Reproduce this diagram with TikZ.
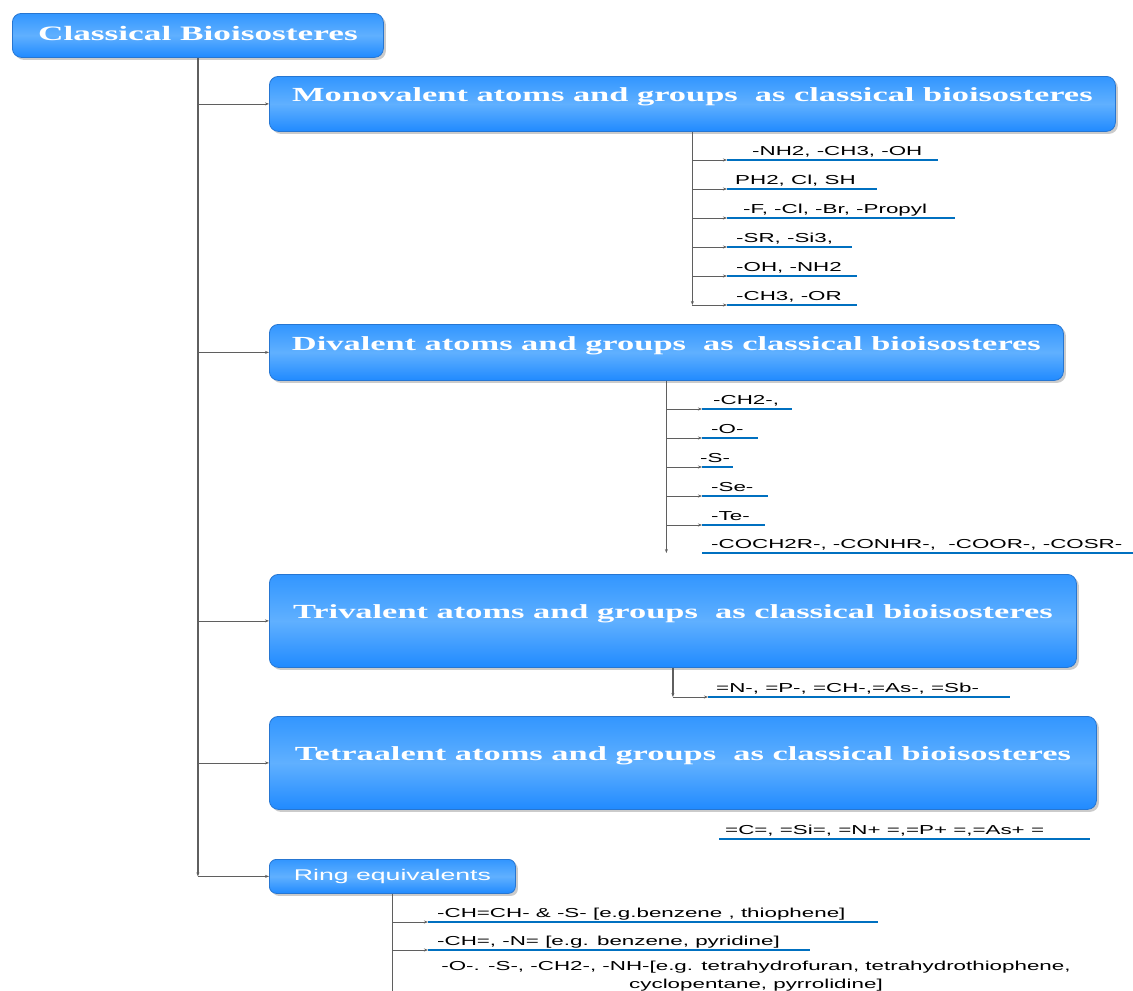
\documentclass[tikz,border=0pt]{standalone}
\usepackage{fontspec}
\setmainfont{Liberation Serif}
\newfontfamily\titlefont[FakeStretch=1.72]{Liberation Serif}
\newfontfamily\itemfont[FakeStretch=1.72]{Liberation Sans}
\usetikzlibrary{arrows.meta,shadows,positioning}
\definecolor{boxtop}{RGB}{50,150,255}
\definecolor{boxmid}{RGB}{96,176,255}
\definecolor{boxbot}{RGB}{32,138,255}
\definecolor{boxedge}{RGB}{38,118,210}
\definecolor{ulblue}{RGB}{0,112,192}
\definecolor{linegray}{RGB}{95,95,95}
\tikzset{
  bluebox/.style={rectangle, draw=boxedge, line width=0.8pt, rounded corners=9pt, top color=boxtop, bottom color=boxbot, middle color=boxmid, text=white, anchor=north west, inner sep=3pt, drop shadow={shadow xshift=2.5pt, shadow yshift=-2.5pt, fill=black!45, opacity=0.45}},
  rootbox/.style={bluebox, font=\titlefont\bfseries\fontsize{20.5}{24}\selectfont, text height=14pt, text depth=4pt},
  groupbox/.style={bluebox, font=\titlefont\bfseries\fontsize{20}{24}\selectfont, text height=14pt, text depth=18pt},
  ringbox/.style={bluebox, font=\itemfont\fontsize{15.5}{18}\selectfont, rounded corners=7pt},
  itemtext/.style={font=\itemfont\fontsize{13}{18}\selectfont, anchor=base west, inner sep=0pt},
  uline/.style={line width=2.6pt, draw=ulblue},
  trunk/.style={draw=linegray, line width=1.2pt, -{Stealth[length=4pt,width=3pt]}},
  branch/.style={draw=linegray, line width=0.7pt, -{Stealth[length=4pt,width=3pt]}},
}
\begin{document}
\begin{tikzpicture}[x=1pt, y=-1pt]
  \fill[white] (0,0) rectangle (1133,991);
  \useasboundingbox (0,0) rectangle (1133,991);

  % Boxes
  \node[rootbox, minimum width=371, minimum height=44] (root) at (12,13) {Classical Bioisosteres};
  \node[groupbox, minimum width=846, minimum height=55] (mono) at (269,76) {Monovalent atoms and groups\ \ as classical bioisosteres};
  \node[groupbox, minimum width=794, minimum height=56] (div) at (269,324) {Divalent atoms and groups\ \ as classical bioisosteres};
  \node[groupbox, minimum width=807, minimum height=93] (tri) at (269,574) {Trivalent atoms and groups\ \ as classical bioisosteres};
  \node[groupbox, minimum width=827, minimum height=93] (tetra) at (269,716) {Tetraalent atoms and groups\ \ as classical bioisosteres};
  \node[ringbox, minimum width=246, minimum height=34] (ring) at (269,859) {Ring equivalents};

  % Main trunk
  \draw[trunk] (root.south) -- (root.south |- ring.west);
  \foreach \b in {mono, div, tri, tetra, ring} {
    \draw[branch] (root.south |- \b.west) -- (\b.west);
  }

  % Monovalent
  \foreach \n/\y/\xt/\len/\txt in {1/160/752/211/{-NH2, -CH3, -OH}, 2/189/735/150/{PH2, Cl, SH}, 3/218/743/228/{-F, -Cl, -Br, -Propyl}, 4/247/736/125/{-SR, -Si3,}, 5/276/736/130/{-OH, -NH2}, 6/305/736/130/{-CH3, -OR}} {
    \coordinate (m\n) at (727,\y);
    \draw[uline] (m\n) -- ++(\len,0);
    \node[itemtext] (mt\n) at (\xt,\y-5) {\txt};
    \draw[branch] (mono.south |- m\n) -- (m\n);
  }
  \draw[trunk] (mono.south) -- (mono.south |- m6);

  % Divalent
  \foreach \n/\y/\xt/\len/\txt in {1/409/713/90/{-CH2-,}, 2/438/711/56/{-O-}, 3/467/700/31/{-S-}, 4/496/711/66/{-Se-}, 5/525/711/63/{-Te-}} {
    \coordinate (d\n) at (702,\y);
    \draw[uline] (d\n) -- ++(\len,0);
    \node[itemtext] (dt\n) at (\xt,\y-5) {\txt};
    \draw[branch] (div.south |- d\n) -- (d\n);
  }
  \coordinate (d6) at (702,553);
  \draw[uline] (d6) -- ++(431,0);
  \node[itemtext] (dt6) at (711,548) {-COCH2R-, -CONHR-,\ \ -COOR-, -COSR-};
  \draw[trunk] (div.south) -- (div.south |- d6);

  % Trivalent
  \coordinate (t1) at (708,697);
  \draw[uline] (t1) -- ++(302,0);
  \node[itemtext] (tt1) at (716,692) {=N-, =P-, =CH-,=As-, =Sb-};
  \draw[trunk] (tri.south) -- (tri.south |- t1);
  \draw[branch] (tri.south |- t1) -- (t1);

  % Tetravalent
  \coordinate (q1) at (719,839);
  \draw[uline] (q1) -- ++(371,0);
  \node[itemtext] (qt1) at (725,834) {=C=, =Si=, =N+ =,=P+ =,=As+ =};

  % Ring equivalents
  \draw[draw=linegray, line width=1.2pt] (ring.south) -- ++(0,110);
  \foreach \n/\y/\len/\txt in {1/922/450/{-CH=CH- \& -S- [e.g.benzene , thiophene]}, 2/950/382/{-CH=, -N= [e.g. benzene, pyridine]}} {
    \coordinate (r\n) at (428,\y);
    \draw[uline] (r\n) -- ++(\len,0);
    \node[itemtext] (rt\n) at (437,\y-5) {\txt};
    \draw[branch] (ring.south |- r\n) -- (r\n);
  }
  \node[itemtext, anchor=north, align=center] (rt3) at (756,961) {-O-. -S-, -CH2-, -NH-[e.g. tetrahydrofuran, tetrahydrothiophene,\\cyclopentane, pyrrolidine]};
\end{tikzpicture}
\end{document}
